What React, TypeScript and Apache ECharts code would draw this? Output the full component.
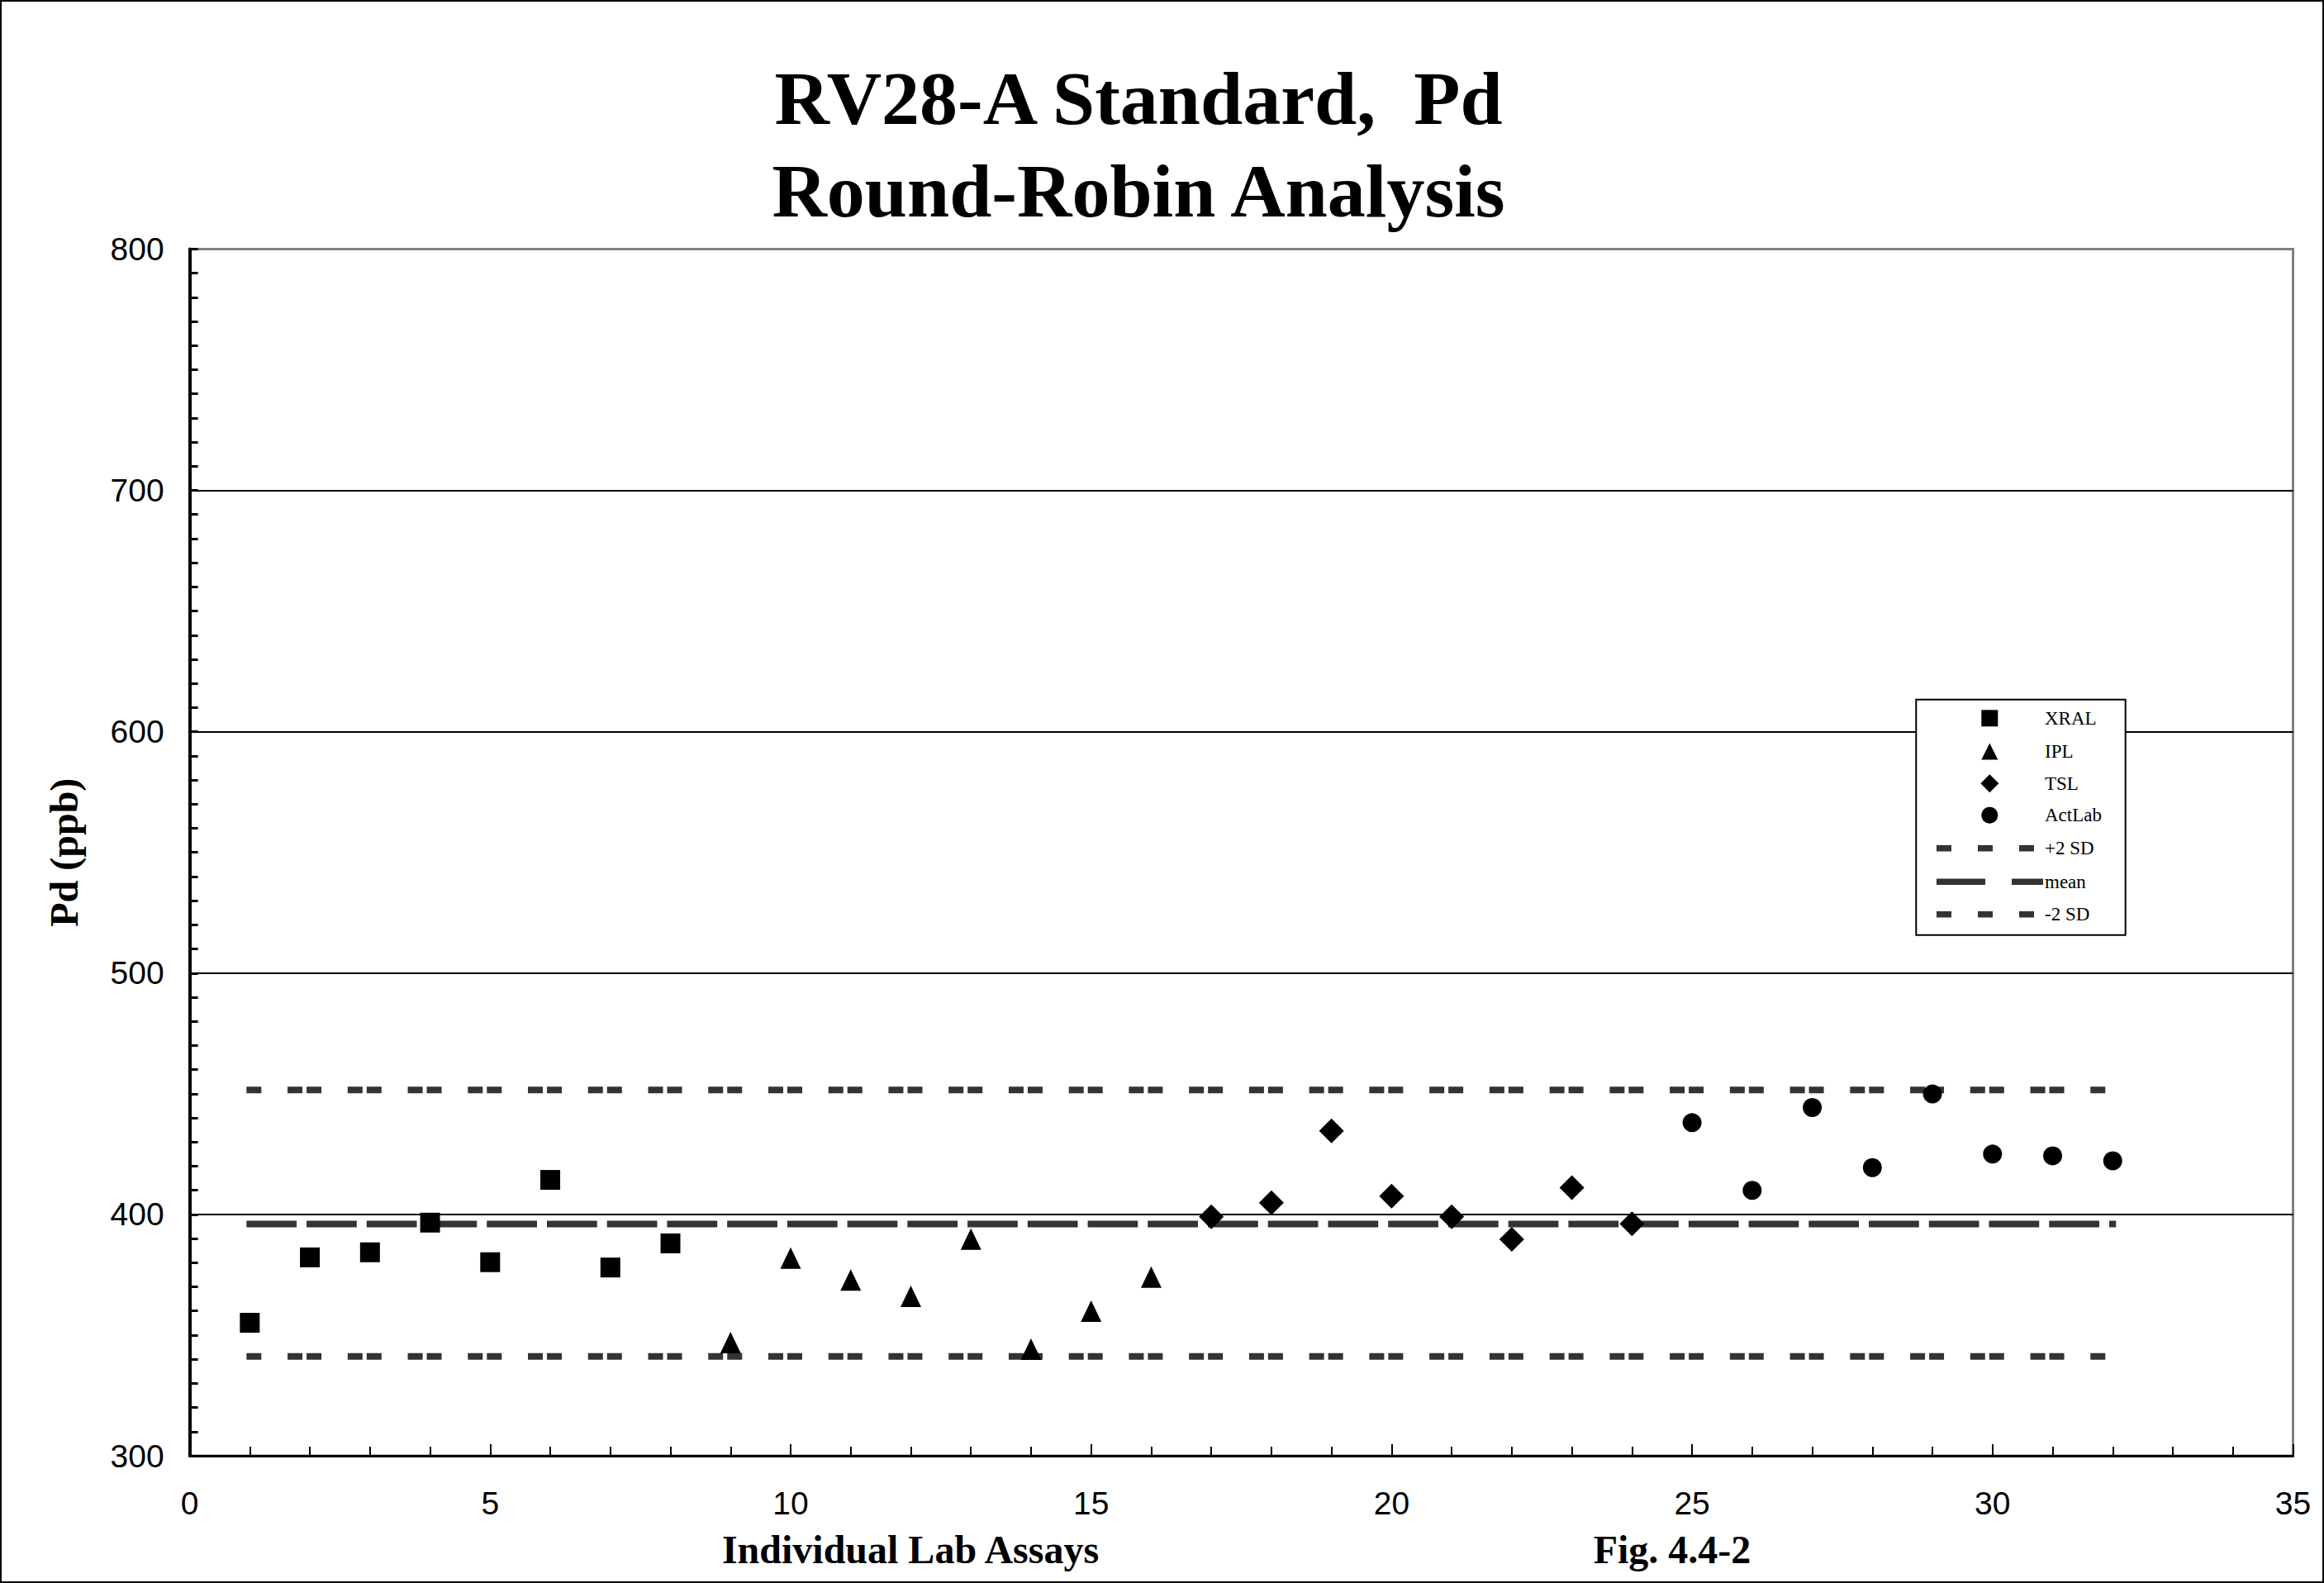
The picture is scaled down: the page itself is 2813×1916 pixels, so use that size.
import React, { useEffect, useRef } from "react";
import * as echarts from "echarts";

// ---- data ----
const xralX = [1, 2, 3, 4, 5, 6, 7, 8];
const xralY = [355.1, 382.2, 384.3, 396.6, 380.2, 414.3, 378.0, 388.0];
const iplX = [9, 10, 11, 12, 13, 14, 15, 16];
const iplY = [346.9, 381.9, 372.8, 366.1, 389.8, 344.2, 359.9, 374.0];
const tslX = [17, 18, 19, 20, 21, 22, 23, 24];
const tslY = [399.0, 404.8, 434.6, 407.6, 399.0, 389.7, 411.1, 396.1];
const actX = [25, 26, 27, 28, 29, 30, 31, 32];
const actY = [438.0, 410.0, 444.3, 419.4, 449.9, 425.0, 424.3, 422.2];

const refX = [1, 32];
const plus2SD = 451.6;
const meanVal = 396.0;
const minus2SD = 341.2;

const titleLines = ["RV28-A Standard,  Pd", "Round-Robin Analysis"];
const xAxisTitle = "Individual Lab Assays";
const figLabel = "Fig. 4.4-2";
const yAxisTitle = "Pd (ppb)";
const legendNames = ["XRAL", "IPL", "TSL", "ActLab", "+2 SD", "mean", "-2 SD"];

const SERIF = "'Liberation Serif', 'Times New Roman', serif";
const SANS = "'Liberation Sans', Arial, sans-serif";

function pairs(xs: number[], ys: number[]) {
  return xs.map((x, i) => [x, ys[i]]);
}

export default function App() {
  const ref = useRef<HTMLDivElement>(null);
  useEffect(() => {
    if (!ref.current) return;
    const chart = echarts.init(ref.current, null, { renderer: "svg" });

    const gridLeft = 229.6;
    const gridTop = 301.4;
    const gridRight = 2775.5;
    const gridBottom = 1762;

    const lgX = 2319.3;
    const lgY = 846.7;
    const mx = 2408.3;
    const tx = 2475;
    const rows = [869.3, 909.5, 948.3, 986.7, 1026.7, 1067.3, 1106.7];
    const lineColor = "#333333";

    const legendGraphics: any[] = [
      {
        type: "rect",
        shape: { x: lgX, y: lgY, width: 253.4, height: 285 },
        style: { fill: "#fff", stroke: "#000", lineWidth: 2 },
        z: 100,
      },
      { type: "rect", shape: { x: mx - 10, y: rows[0] - 10, width: 20, height: 20 }, style: { fill: "#000" }, z: 101 },
      {
        type: "polygon",
        shape: { points: [[mx, rows[1] - 10], [mx + 10, rows[1] + 10], [mx - 10, rows[1] + 10]] },
        style: { fill: "#000" },
        z: 101,
      },
      {
        type: "polygon",
        shape: { points: [[mx, rows[2] - 11], [mx + 11, rows[2]], [mx, rows[2] + 11], [mx - 11, rows[2]]] },
        style: { fill: "#000" },
        z: 101,
      },
      { type: "circle", shape: { cx: mx, cy: rows[3], r: 10 }, style: { fill: "#000" }, z: 101 },
    ];
    // dashed line icons
    const sdDashes = [2344, 2394, 2444];
    [4, 6].forEach((r) => {
      sdDashes.forEach((x0) => {
        legendGraphics.push({
          type: "rect",
          shape: { x: x0, y: rows[r] - 3.8, width: 18, height: 7.6 },
          style: { fill: lineColor },
          z: 101,
        });
      });
    });
    [[2344, 59], [2435, 38]].forEach(([x0, w]) => {
      legendGraphics.push({
        type: "rect",
        shape: { x: x0, y: rows[5] - 3.8, width: w, height: 7.6 },
        style: { fill: lineColor },
        z: 101,
      });
    });
    legendNames.forEach((n, i) => {
      legendGraphics.push({
        type: "text",
        x: tx,
        y: rows[i],
        style: {
          text: n,
          fontFamily: SERIF,
          fontSize: 23,
          fill: "#000",
          textAlign: "left",
          textVerticalAlign: "middle",
        },
        z: 102,
      });
    });

    const markerStyle = { color: "#000", opacity: 1 };

    const option: any = {
      animation: false,
      backgroundColor: "#ffffff",
      grid: {
        left: gridLeft,
        top: gridTop,
        width: gridRight - gridLeft,
        height: gridBottom - gridTop,
        show: true,
        borderColor: "#808080",
        borderWidth: 3,
        backgroundColor: "transparent",
        containLabel: false,
      },
      xAxis: {
        type: "value",
        min: 0,
        max: 35,
        interval: 5,
        axisLine: { show: true, onZero: false, lineStyle: { color: "#000", width: 3 } },
        axisTick: { show: true, inside: true, length: 14, lineStyle: { color: "#000", width: 2 } },
        minorTick: { show: true, splitNumber: 5, length: 11, lineStyle: { color: "#000", width: 2 } },
        axisLabel: { show: true, margin: 38, color: "#000", fontFamily: SANS, fontSize: 39 },
        splitLine: { show: false },
      },
      yAxis: {
        type: "value",
        min: 300,
        max: 800,
        interval: 100,
        axisLine: { show: true, onZero: false, lineStyle: { color: "#000", width: 4 } },
        axisTick: { show: true, inside: true, length: 10, lineStyle: { color: "#000", width: 3 } },
        minorTick: { show: true, splitNumber: 10, length: 10, lineStyle: { color: "#000", width: 3 } },
        axisLabel: { show: true, margin: 31, color: "#000", fontFamily: SANS, fontSize: 39 },
        splitLine: {
          show: true,
          showMinLine: false,
          showMaxLine: false,
          lineStyle: { color: "#000", width: 2 },
        },
        name: yAxisTitle,
        nameLocation: "middle",
        nameGap: 128,
        nameTextStyle: { fontFamily: SERIF, fontWeight: "bold", fontSize: 48, color: "#000" },
      },
      series: [
        {
          name: "+2 SD",
          type: "line",
          data: refX.map((x) => [x, plus2SD]),
          showSymbol: false,
          symbol: "none",
          silent: true,
          z: 2,
          lineStyle: { color: lineColor, width: 8, type: [10, 13, 10, 39.74], dashOffset: 23, cap: "square" },
        },
        {
          name: "mean",
          type: "line",
          data: refX.map((x) => [x, meanVal]),
          showSymbol: false,
          symbol: "none",
          silent: true,
          z: 2,
          lineStyle: { color: lineColor, width: 8, type: [52.73, 20], dashOffset: 0, cap: "square" },
        },
        {
          name: "-2 SD",
          type: "line",
          data: refX.map((x) => [x, minus2SD]),
          showSymbol: false,
          symbol: "none",
          silent: true,
          z: 2,
          lineStyle: { color: lineColor, width: 8, type: [10, 13, 10, 39.74], dashOffset: 23, cap: "square" },
        },
        {
          name: "XRAL",
          type: "scatter",
          data: pairs(xralX, xralY),
          symbol: "rect",
          symbolSize: 24,
          itemStyle: markerStyle,
          z: 5,
        },
        {
          name: "IPL",
          type: "scatter",
          data: pairs(iplX, iplY),
          symbol: "triangle",
          symbolSize: [25, 26],
          itemStyle: markerStyle,
          z: 5,
        },
        {
          name: "TSL",
          type: "scatter",
          data: pairs(tslX, tslY),
          symbol: "diamond",
          symbolSize: [30, 30],
          itemStyle: markerStyle,
          z: 5,
        },
        {
          name: "ActLab",
          type: "scatter",
          data: pairs(actX, actY),
          symbol: "circle",
          symbolSize: 23,
          itemStyle: markerStyle,
          z: 5,
        },
      ],
      graphic: [
        {
          type: "rect",
          shape: { x: 1, y: 1, width: 2811, height: 1914 },
          style: { fill: "none", stroke: "#000", lineWidth: 2 },
          silent: true,
          z: 0,
        },
        {
          type: "text",
          x: 1378,
          y: 119,
          style: {
            text: titleLines[0],
            fontFamily: SERIF,
            fontWeight: "bold",
            fontSize: 92,
            fill: "#000",
            textAlign: "center",
            textVerticalAlign: "middle",
          },
        },
        {
          type: "text",
          x: 1378,
          y: 231,
          style: {
            text: titleLines[1],
            fontFamily: SERIF,
            fontWeight: "bold",
            fontSize: 92,
            fill: "#000",
            textAlign: "center",
            textVerticalAlign: "middle",
          },
        },
        {
          type: "text",
          x: 1102,
          y: 1875,
          style: {
            text: xAxisTitle,
            fontFamily: SERIF,
            fontWeight: "bold",
            fontSize: 48,
            fill: "#000",
            textAlign: "center",
            textVerticalAlign: "middle",
          },
        },
        {
          type: "text",
          x: 2024,
          y: 1875,
          style: {
            text: figLabel,
            fontFamily: SERIF,
            fontWeight: "bold",
            fontSize: 48,
            fill: "#000",
            textAlign: "center",
            textVerticalAlign: "middle",
          },
        },
        ...legendGraphics,
      ],
    };
    chart.setOption(option);
    return () => chart.dispose();
  }, []);
  return (
    <div
      ref={ref}
      style={{ position: "fixed", left: 0, top: 0, width: 2813, height: 1916, background: "#fff" }}
    />
  );
}
